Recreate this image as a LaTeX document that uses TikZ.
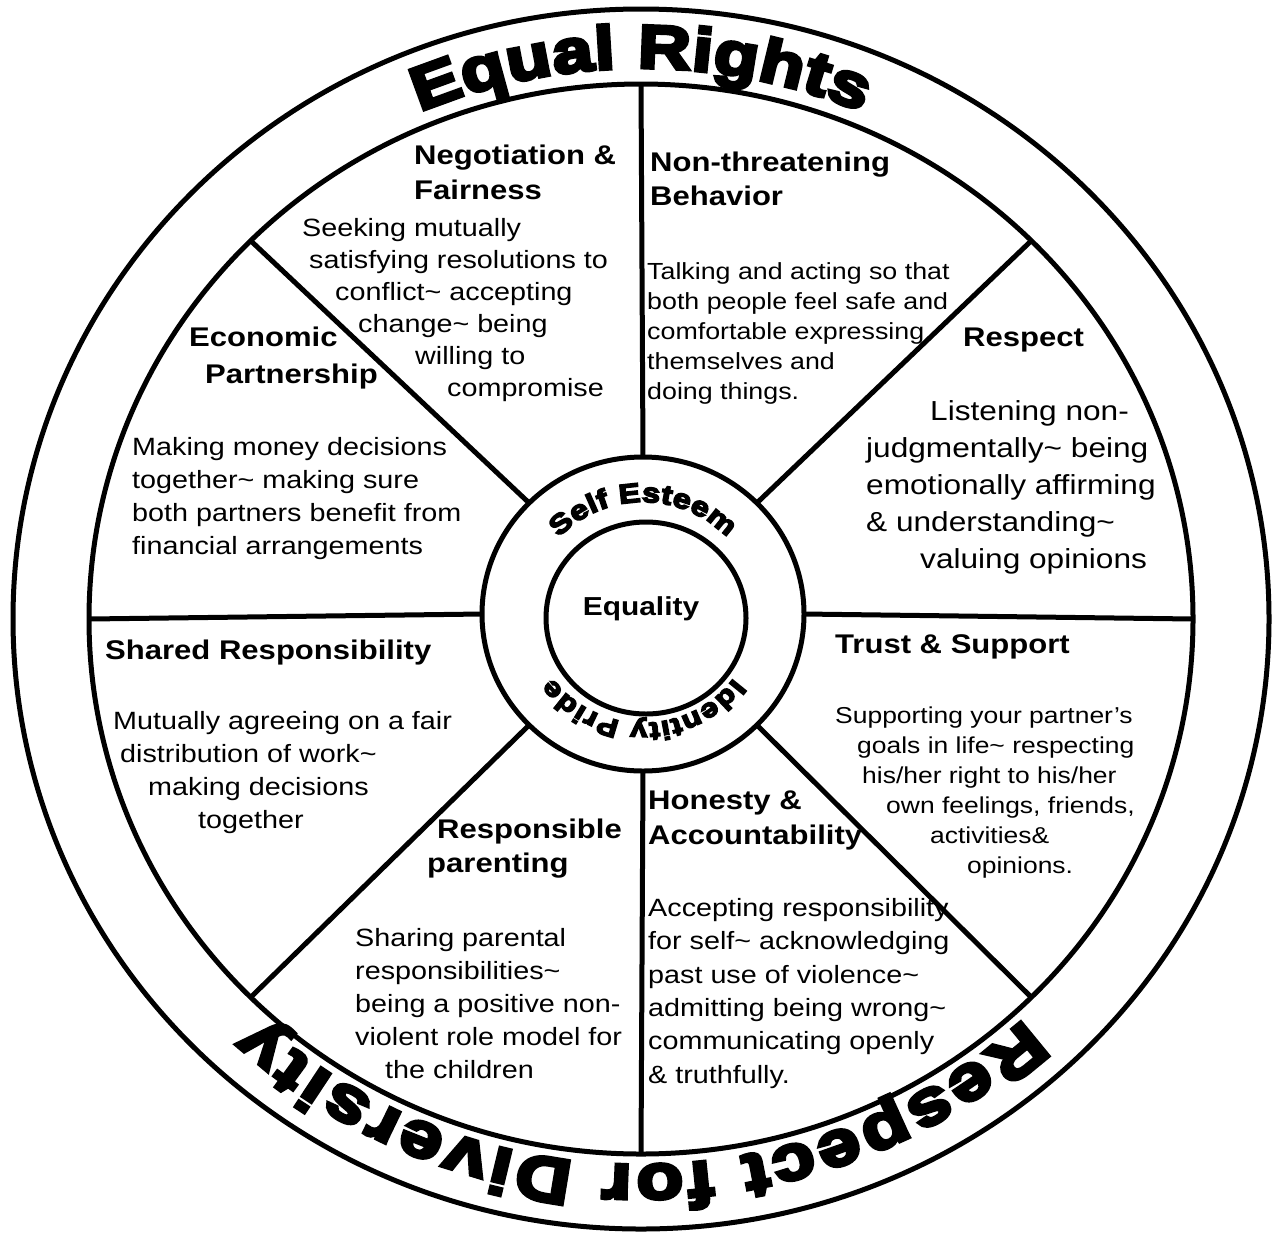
\documentclass[tikz,border=0pt]{standalone}
\usepackage{fontspec}
\setmainfont{Liberation Sans}[FakeStretch=1.15]
\newfontfamily\artfont{Liberation Sans Bold}[FakeStretch=1.2, FakeBold=6]
\usetikzlibrary{decorations.text}
\newcommand\wordart[1]{\artfont\fontsize{#1}{#1}\selectfont}
\newcommand\tld{\textasciitilde}
\newcommand\ind[1]{\hspace*{#1pt}}

\begin{document}
\begin{tikzpicture}[x=1pt, y=1pt,
	ring/.style={line width=5pt},
	spoke/.style={line width=5pt},
	ttl/.style={anchor=north west, inner sep=0pt, align=left, font=\bfseries\fontsize{27}{35}\selectfont},
	txt/.style={anchor=north west, inner sep=0pt, align=left, font=\fontsize{25}{33}\selectfont}]
	
	\useasboundingbox (0,0) rectangle (1273,-1235);
	\coordinate (c) at (641,-619);
	\coordinate (hc) at (643,-614);
	\coordinate (ec) at (646,-618);
	
	% outer rings
	\draw[ring] (c) ellipse [x radius=628, y radius=610];
	\draw[ring] (c) ellipse [x radius=552, y radius=535];
	% hub
	\draw[ring] (hc) ellipse [x radius=161, y radius=157];
	\draw[ring] (ec) ellipse [x radius=100, y radius=96];
	
	% spokes
	\foreach \a in {0,45,...,315}
		\draw[spoke] ([shift={(\a:161 and 157)}]hc) -- ([shift={(\a:552 and 535)}]c);
	
	% curved titles
	\path[decorate, decoration={text along path, text align=fit to path, text={|\wordart{61}|Equal Rights}}]
		([shift={(113:566 and 551)}]c) arc[start angle=113, end angle=67, x radius=566, y radius=551];
	\path[decorate, decoration={text along path, text align=fit to path, text={|\wordart{64}|Respect for Diversity}}]
		([shift={(-47:562 and 546)}]c) arc[start angle=-47, end angle=-133, x radius=562, y radius=546];
	\path[decorate, decoration={text along path, text align=fit to path, text={|\wordart{27}|Self Esteem}}]
		([shift={(137:115 and 112)}]hc) arc[start angle=137, end angle=43, x radius=115, y radius=112];
	\path[decorate, decoration={text along path, text align=fit to path, text={|\wordart{26}|Identity Pride}}]
		([shift={(-36:112 and 109)}]hc) arc[start angle=-36, end angle=-144, x radius=112, y radius=109];
	
	\node[anchor=base, font=\bfseries\fontsize{26}{26}\selectfont] (eq) at (641,-615) {Equality};
	
	% negotiation
	\node[ttl] (negT) at (414,-145) {Negotiation \&\\Fairness};
	\node[txt, font=\fontsize{25}{32}\selectfont] (negB) at (302,-218) {Seeking mutually\\\ind{7}satisfying resolutions to\\\ind{33}conflict\tld{} accepting\\\ind{56}change\tld{} being\\\ind{113}willing to\\\ind{145}compromise};
	
	% non-threatening
	\node[ttl, font=\bfseries\fontsize{27}{34}\selectfont] (nonT) at (650,-152) {Non-threatening\\Behavior};
	\node[txt, font=\fontsize{23.3}{30}\selectfont] (nonB) at (647,-262) {Talking and acting so that\\both people feel safe and\\comfortable expressing\\themselves and\\doing things.};
	
	% respect
	\node[ttl] (resT) at (963,-328) {Respect};
	\node[txt, font=\fontsize{27.5}{37}\selectfont] (resB) at (866,-400) {\ind{64}Listening non-\\judgmentally\tld{} being\\emotionally affirming\\\&~understanding\tld\\\ind{54}valuing opinions};
	
	% economic
	\node[ttl, font=\bfseries\fontsize{27}{37}\selectfont] (ecoT) at (189,-327) {Economic\\\ind{16}Partnership};
	\node[txt] (ecoB) at (132,-437) {Making money decisions\\together\tld{} making sure\\both partners benefit from\\financial arrangements};
	
	% shared
	\node[ttl] (shaT) at (105,-640) {Shared Responsibility};
	\node[txt] (shaB) at (113,-711) {Mutually agreeing on a fair\\\ind{7}distribution of work\tld\\\ind{35}making decisions\\\ind{85}together};
	
	% trust
	\node[ttl] (truT) at (835,-634) {Trust \& Support};
	\node[txt, font=\fontsize{23}{30}\selectfont] (truB) at (835,-707) {Supporting your partner’s\\\ind{22}goals in life\tld{} respecting\\\ind{27}his/her right to his/her\\\ind{51}own feelings, friends,\\\ind{95}activities\&\\\ind{132}opinions.};
	
	% honesty
	\node[ttl] (honT) at (648,-791) {Honesty \&\\Accountability};
	\node[txt, font=\fontsize{25}{33.4}\selectfont] (honB) at (648,-898) {Accepting responsibility\\for self\tld{} acknowledging\\past use of violence\tld\\admitting being wrong\tld\\communicating openly\\\&~truthfully.};
	
	% parenting
	\node[ttl, font=\bfseries\fontsize{27}{34}\selectfont] (parT) at (427,-819) {\ind{10}Responsible\\parenting};
	\node[txt] (parB) at (355,-928) {Sharing parental\\responsibilities\tld\\being a positive non-\\violent role model for\\\ind{30}the children};
	
\end{tikzpicture}
\end{document}
